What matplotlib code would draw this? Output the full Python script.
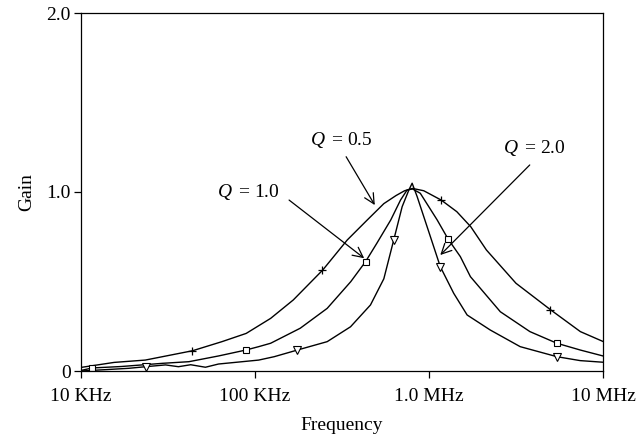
import matplotlib
matplotlib.use("Agg")
import numpy as np
import matplotlib.pyplot as plt
from matplotlib.ticker import FixedLocator, NullLocator

plt.rcParams["font.family"] = ["Liberation Serif", "DejaVu Serif"]
plt.rcParams["mathtext.fontset"] = "custom"
plt.rcParams["mathtext.it"] = "Liberation Serif:italic"
plt.rcParams["mathtext.rm"] = "Liberation Serif"

# -----------------------------
# curves (frequency in kHz, gain)
# -----------------------------
F_Q05 = [10, 15.5, 23.4, 43.7, 64.6, 89, 123, 166, 245, 339, 442, 550, 646, 724,
         804, 933, 1175, 1445, 1738, 2138, 3162, 5012, 7413, 10000]
G_Q05 = [0.02, 0.048, 0.061, 0.113, 0.164, 0.21, 0.294, 0.397, 0.564, 0.732, 0.844,
         0.935, 0.98, 1.007, 1.02, 1.007, 0.955, 0.89, 0.806, 0.676, 0.49, 0.341,
         0.22, 0.165]

F_Q10 = [10, 11.6, 17, 29.5, 41.7, 61.7, 88.5, 105, 123, 182, 260, 355, 432, 501,
         603, 686, 748, 804, 891, 1114, 1288, 1514, 1730, 2570, 3802, 5433, 7413, 10000]
G_Q10 = [0.003, 0.017, 0.025, 0.043, 0.052, 0.084, 0.117, 0.136, 0.155, 0.239, 0.35,
         0.499, 0.611, 0.713, 0.844, 0.955, 1.011, 1.017, 0.993, 0.844, 0.737, 0.639,
         0.527, 0.331, 0.22, 0.155, 0.117, 0.084]

F_Q20 = [10, 14.1, 18.8, 23.5, 30.6, 36.3, 42.7, 51.9, 61.7, 105, 129, 175, 260, 354,
         461, 550, 627, 701, 766, 800, 855, 1019, 1161, 1387, 1656, 2249, 3342, 5433,
         7396, 10000]
G_Q20 = [0.0, 0.008, 0.015, 0.024, 0.034, 0.024, 0.035, 0.021, 0.039, 0.061, 0.08,
         0.117, 0.164, 0.247, 0.369, 0.515, 0.732, 0.918, 1.011, 1.049, 0.974, 0.75,
         0.583, 0.434, 0.313, 0.229, 0.136, 0.08, 0.058, 0.049]

# marker positions
MF_Q05 = [43.7, 244, 1178, 4977]
MG_Q05 = [0.113, 0.564, 0.955, 0.341]
MF_Q10 = [11.6, 88.5, 432, 1288, 5433]
MG_Q10 = [0.017, 0.117, 0.611, 0.737, 0.155]
MF_Q20 = [23.5, 175, 627, 1161, 5433]
MG_Q20 = [0.024, 0.117, 0.732, 0.583, 0.08]

X_TICKS = [10, 100, 1000, 10000]
X_LABELS = ["10 KHz", "100 KHz", "1.0 MHz", "10 MHz"]
Y_TICKS = [0, 1, 2]
Y_LABELS = ["0", "1.0", "2.0"]

# label text position, arrow tail, arrow head
LABELS = [
    (r"$Q\,$ = 0.5", (314, 1.29), (334, 1.197), (488, 0.927)),
    (r"$Q\,$ = 1.0", (92, 1.0), (157, 0.955), (424, 0.63)),
    (r"$Q\,$ = 2.0", (4027, 1.246), (3793, 1.151), (1161, 0.648)),
]

FS = 14


def main():
    fig = plt.figure(figsize=(6.38, 4.43), dpi=100)
    ax = fig.add_axes([81 / 638, 1 - 371 / 443, 522 / 638, 358 / 443])

    for f, g in [(F_Q05, G_Q05), (F_Q10, G_Q10), (F_Q20, G_Q20)]:
        ax.plot(f, g, color="black", lw=1.0)

    ax.plot(MF_Q05, MG_Q05, ls="none", marker="+", ms=6, mew=0.9, color="black")
    ax.plot(MF_Q10, MG_Q10, ls="none", marker="s", ms=4.5, mew=0.8,
            mfc="white", mec="black")
    ax.plot(MF_Q20, MG_Q20, ls="none", marker="v", ms=6, mew=0.8,
            mfc="white", mec="black")

    for txt, tpos, tail, head in LABELS:
        ax.text(tpos[0], tpos[1], txt, ha="center", va="center", fontsize=FS)
        ax.annotate("", xy=head, xytext=tail,
                    arrowprops=dict(arrowstyle="->", color="black", lw=0.9,
                                    mutation_scale=18, shrinkA=0, shrinkB=0))

    ax.set_xscale("log")
    ax.set_xlim(10, 10000)
    ax.set_ylim(0, 2)
    ax.xaxis.set_major_locator(FixedLocator(X_TICKS))
    ax.xaxis.set_minor_locator(NullLocator())
    ax.set_xticklabels(X_LABELS)
    ax.set_yticks(Y_TICKS)
    ax.set_yticklabels(Y_LABELS)
    ax.tick_params(direction="out", length=5, width=0.9, labelsize=FS)
    ax.tick_params(axis="x", pad=7)
    ax.tick_params(axis="y", pad=2.5)

    for s in ax.spines.values():
        s.set_linewidth(0.9)

    ax.set_xlabel("Frequency", fontsize=FS, labelpad=9)
    ax.set_ylabel("Gain", fontsize=FS, labelpad=8)

    fig.savefig("out.png", dpi=100)


if __name__ == "__main__":
    main()
